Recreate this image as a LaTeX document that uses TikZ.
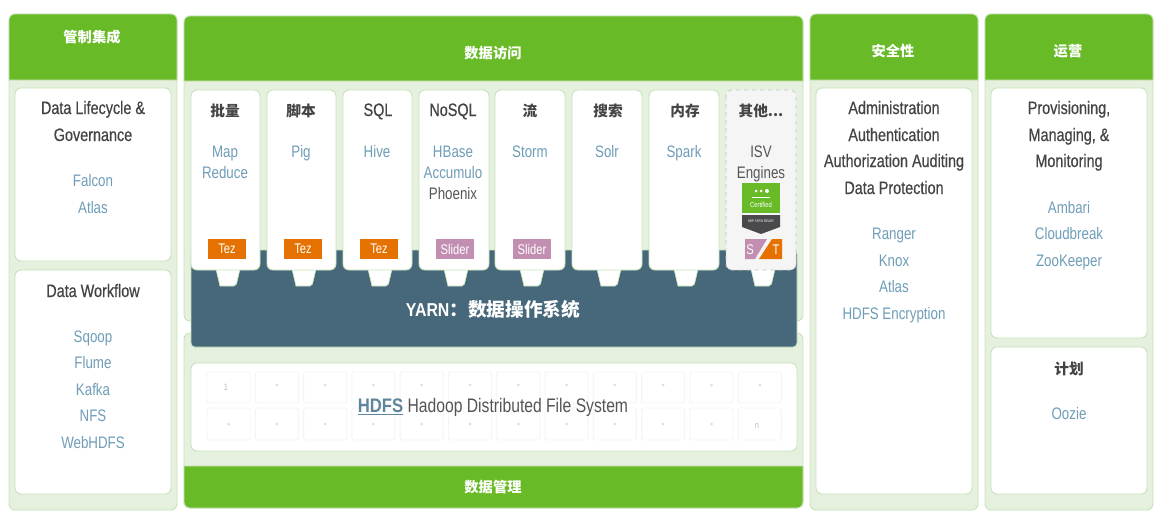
\documentclass[tikz,border=0pt]{standalone}
\usepackage{fontspec}
\setmainfont{Liberation Sans}[FakeStretch=0.8,BoldFeatures={FakeStretch=0.85}]
\newfontfamily\cjk{Noto Sans CJK SC}
\newfontfamily\darkf{Liberation Sans}[FakeStretch=0.8,FakeBold=0.5]
\definecolor{hdrgreen}{HTML}{68BB26}
\definecolor{panelbg}{HTML}{E6F0DF}
\definecolor{panelline}{HTML}{C9E3BA}
\definecolor{yarnblue}{HTML}{46687A}
\definecolor{techblue}{HTML}{6F9DB8}
\definecolor{inktxt}{HTML}{444444}
\definecolor{softtxt}{HTML}{555555}
\definecolor{tezorange}{HTML}{E57200}
\definecolor{sliderpink}{HTML}{C28FB2}
\definecolor{cellline}{HTML}{F5F5F5}
\definecolor{dotcol}{HTML}{E2DCD6}
\definecolor{darkbadge}{HTML}{4A4A4C}
\tikzset{
 panel/.style={fill=panelbg,draw=panelline,line width=0.7pt,rounded corners=4.5pt},
 hdr/.style={fill=hdrgreen,draw=panelline,line width=0.6pt},
 card/.style={fill=white,draw=panelline,line width=0.7pt,rounded corners=4.5pt},
 othercard/.style={fill=black!4,draw=black!22,dashed,line width=0.6pt,rounded corners=4.5pt},
 tabshape/.style={fill=white,draw=panelline,line width=0.5pt},
 cell/.style={draw=cellline,line width=0.7pt,rounded corners=1.5pt},
 linebox/.style={inner sep=0pt,text height=10.5pt,text depth=1.5pt},
 head/.style={linebox,text=inktxt,font=\darkf\fontsize{13.5}{15}\selectfont},
 cjkhead/.style={linebox,text=inktxt,font=\cjk\bfseries\fontsize{11}{13}\selectfont},
 tech/.style={linebox,text=techblue,font=\fontsize{12.5}{15}\selectfont},
 plain/.style={linebox,text=inktxt,font=\darkf\fontsize{13.5}{15}\selectfont},
 soft/.style={linebox,text=softtxt,font=\fontsize{12.5}{15}\selectfont},
 title/.style={linebox,text=white,font=\cjk\bfseries\fontsize{10.7}{13}\selectfont},
 badge/.style={text=white,font=\fontsize{10.5}{11}\selectfont,inner sep=0pt,minimum width=28.5pt,minimum height=15pt},
 cellmark/.style={text=black!25,font=\fontsize{7}{8}\selectfont,inner sep=0pt}
}
\newcommand{\hdrbar}[4]{\draw[hdr] (#1,#4) [rounded corners=4.5pt] -- (#1,#3) -- (#2,#3) [sharp corners] -- (#2,#4) -- cycle;}
\begin{document}
\begin{tikzpicture}[x=0.75pt,y=-0.75pt]
\useasboundingbox (0,0) rectangle (1160,521);
% outer panels
\draw[panel] (9,14) rectangle (177,510);
\draw[panel] (184,16) rectangle (803,321);
\draw[panel] (184,333) rectangle (803,508);
\draw[panel] (810,14) rectangle (978,510);
\draw[panel] (985,14) rectangle (1153,510);
% header bars
\hdrbar{9}{177}{14}{80}
\hdrbar{184}{803}{16}{81}
\hdrbar{810}{978}{14}{80}
\hdrbar{985}{1153}{14}{80}
\draw[hdr] (184,466) -- (803,466) [rounded corners=4.5pt] -- (803,508) -- (184,508) [sharp corners] -- cycle;
\node[title] (t1) at (92,36) {管制集成};
\node[title] (t2) at (493,52) {数据访问};
\node[title] (t3) at (893,50) {安全性};
\node[title] (t4) at (1068,50) {运营};
\node[title] (t5) at (493,486) {数据管理};
% white boxes
\draw[card] (15,88) rectangle (171,261);
\draw[card] (15,270) rectangle (171,494);
\draw[card] (816,88) rectangle (972,494);
\draw[card] (991,88) rectangle (1147,338);
\draw[card] (991,347) rectangle (1147,494);
% YARN
\draw[fill=yarnblue,draw=panelline,line width=0.5pt,rounded corners=3pt] (191,250) rectangle (797,347);
\node[text=white,font=\bfseries\fontsize{14}{18}\selectfont,inner sep=0pt] (yarn) at (493,309) {YARN{\cjk：数据操作系统}};
% tabs
\foreach \c in {228,304,380,456,532,609,686,763}{
 \draw[tabshape] (\c-12,269) -- (\c-8,286) [rounded corners=1.5pt] -- (\c+8,286) [sharp corners] -- (\c+12,269);
}
% cards
\draw[card] (191,90) rectangle (260,270);
\draw[card] (267,90) rectangle (336,270);
\draw[card] (343,90) rectangle (412,270);
\draw[card] (419,90) rectangle (489,270);
\draw[card] (495,90) rectangle (565,270);
\draw[card] (572,90) rectangle (642,270);
\draw[card] (649,90) rectangle (719,270);
\draw[othercard] (726,90) rectangle (796,270);
% card headings
\node[cjkhead] (h1) at (225,110) {批量};
\node[cjkhead] (h2) at (301,110) {脚本};
\node[head] (h3) at (378,110) {SQL};
\node[head] (h4) at (453,110) {NoSQL};
\node[cjkhead] (h5) at (530,110) {流};
\node[cjkhead] (h6) at (608,110) {搜索};
\node[cjkhead] (h7) at (685,110) {内存};
\node[cjkhead] (h8) at (761,110) {其他...};
% card techs
\node[tech] (c1a) at (225,151) {Map};
\node[tech] (c1b) at (225,172) {Reduce};
\node[tech] (c2a) at (301,151) {Pig};
\node[tech] (c3a) at (377,151) {Hive};
\node[tech] (c4a) at (453,151) {HBase};
\node[tech] (c4b) at (453,172) {Accumulo};
\node[soft] (c4c) at (453,193) {Phoenix};
\node[tech] (c5a) at (530,151) {Storm};
\node[tech] (c6a) at (607,151) {Solr};
\node[tech] (c7a) at (684,151) {Spark};
\node[soft] (c8a) at (761,151) {ISV};
\node[soft] (c8b) at (761,172) {Engines};
% badges
\node[badge,fill=tezorange] (b1) at (227,249) {Tez};
\node[badge,fill=tezorange] (b2) at (303,249) {Tez};
\node[badge,fill=tezorange] (b3) at (379,249) {Tez};
\node[badge,fill=sliderpink] (b4) at (455,249) {Slider};
\node[badge,fill=sliderpink] (b5) at (532,249) {Slider};
% certified
\fill[hdrgreen] (742,183) rectangle (780,213);
\node[text=white,font=\fontsize{5.5}{6}\selectfont,inner sep=0pt] (cert) at (761,205) {Certified};
\fill[white] (756,191) circle (1.5) (761,191) circle (1.5) (767,191) circle (2);
\fill[white] (752,197) rectangle (770,198);
\fill[darkbadge] (742,215) -- (780,215) -- (780,227) -- (761,234) -- (742,227) -- cycle;
\node[text=white,font=\fontsize{2.8}{3}\selectfont,inner sep=0pt] (hdp) at (761,221) {HDP YARN READY};
% S / T
\fill[sliderpink] (745,239) -- (767,239) -- (755,259) -- (745,259) -- cycle;
\fill[tezorange] (772,239) -- (782,239) -- (782,259) -- (759,259) -- cycle;
\node[text=white,font=\fontsize{10.5}{11}\selectfont,inner sep=0pt] (bs) at (750,250) {S};
\node[text=white,font=\fontsize{10.5}{11}\selectfont,inner sep=0pt] (bt) at (776,250) {T};
% HDFS
\draw[card] (191,363) rectangle (797,451);
\foreach \i in {0,...,11}{
 \pgfmathsetmacro{\xa}{207+48.3*\i}
 \pgfmathsetmacro{\xb}{\xa+43}
 \draw[cell] (\xa,372) rectangle (\xb,403);
 \draw[cell] (\xa,408) rectangle (\xb,440);
 \pgfmathsetmacro{\xc}{\xa+21.5}
 \ifnum\i>0 \fill[dotcol] (\xc,385) circle (1.5); \fi
 \ifnum\i<11 \fill[dotcol] (\xc,424) circle (1.5); \fi
}
\node[cellmark] (one) at (226,387) {1};
\node[cellmark] (enn) at (757,426) {n};
\node[text=softtxt,font=\fontsize{14.7}{17}\selectfont,inner sep=0pt,text height=11pt,text depth=2pt] (hdfs) at (493,406) {\textcolor{techblue!85!black}{\bfseries\underline{HDFS}} Hadoop Distributed File System};
% left column
\node[plain] (l1) at (93,108) {Data Lifecycle \&};
\node[plain] (l2) at (93,135) {Governance};
\node[tech] (l3) at (93,180) {Falcon};
\node[tech] (l4) at (93,207) {Atlas};
\node[plain] (l5) at (93,291) {Data Workflow};
\node[tech] (l6) at (93,336) {Sqoop};
\node[tech] (l7) at (93,362) {Flume};
\node[tech] (l8) at (93,389) {Kafka};
\node[tech] (l9) at (93,415) {NFS};
\node[tech] (l10) at (93,442) {WebHDFS};
% security
\node[plain] (s1) at (894,108) {Administration};
\node[plain] (s2) at (894,135) {Authentication};
\node[plain] (s3) at (894,161) {Authorization Auditing};
\node[plain] (s4) at (894,188) {Data Protection};
\node[tech] (s5) at (894,233) {Ranger};
\node[tech] (s6) at (894,260) {Knox};
\node[tech] (s7) at (894,286) {Atlas};
\node[tech] (s8) at (894,313) {HDFS Encryption};
% operations
\node[plain] (o1) at (1069,108) {Provisioning,};
\node[plain] (o2) at (1069,135) {Managing, \&};
\node[plain] (o3) at (1069,161) {Monitoring};
\node[tech] (o4) at (1069,207) {Ambari};
\node[tech] (o5) at (1069,233) {Cloudbreak};
\node[tech] (o6) at (1069,260) {ZooKeeper};
\node[cjkhead] (o7) at (1069,368) {计划};
\node[tech] (o8) at (1069,413) {Oozie};
\end{tikzpicture}
\end{document}
